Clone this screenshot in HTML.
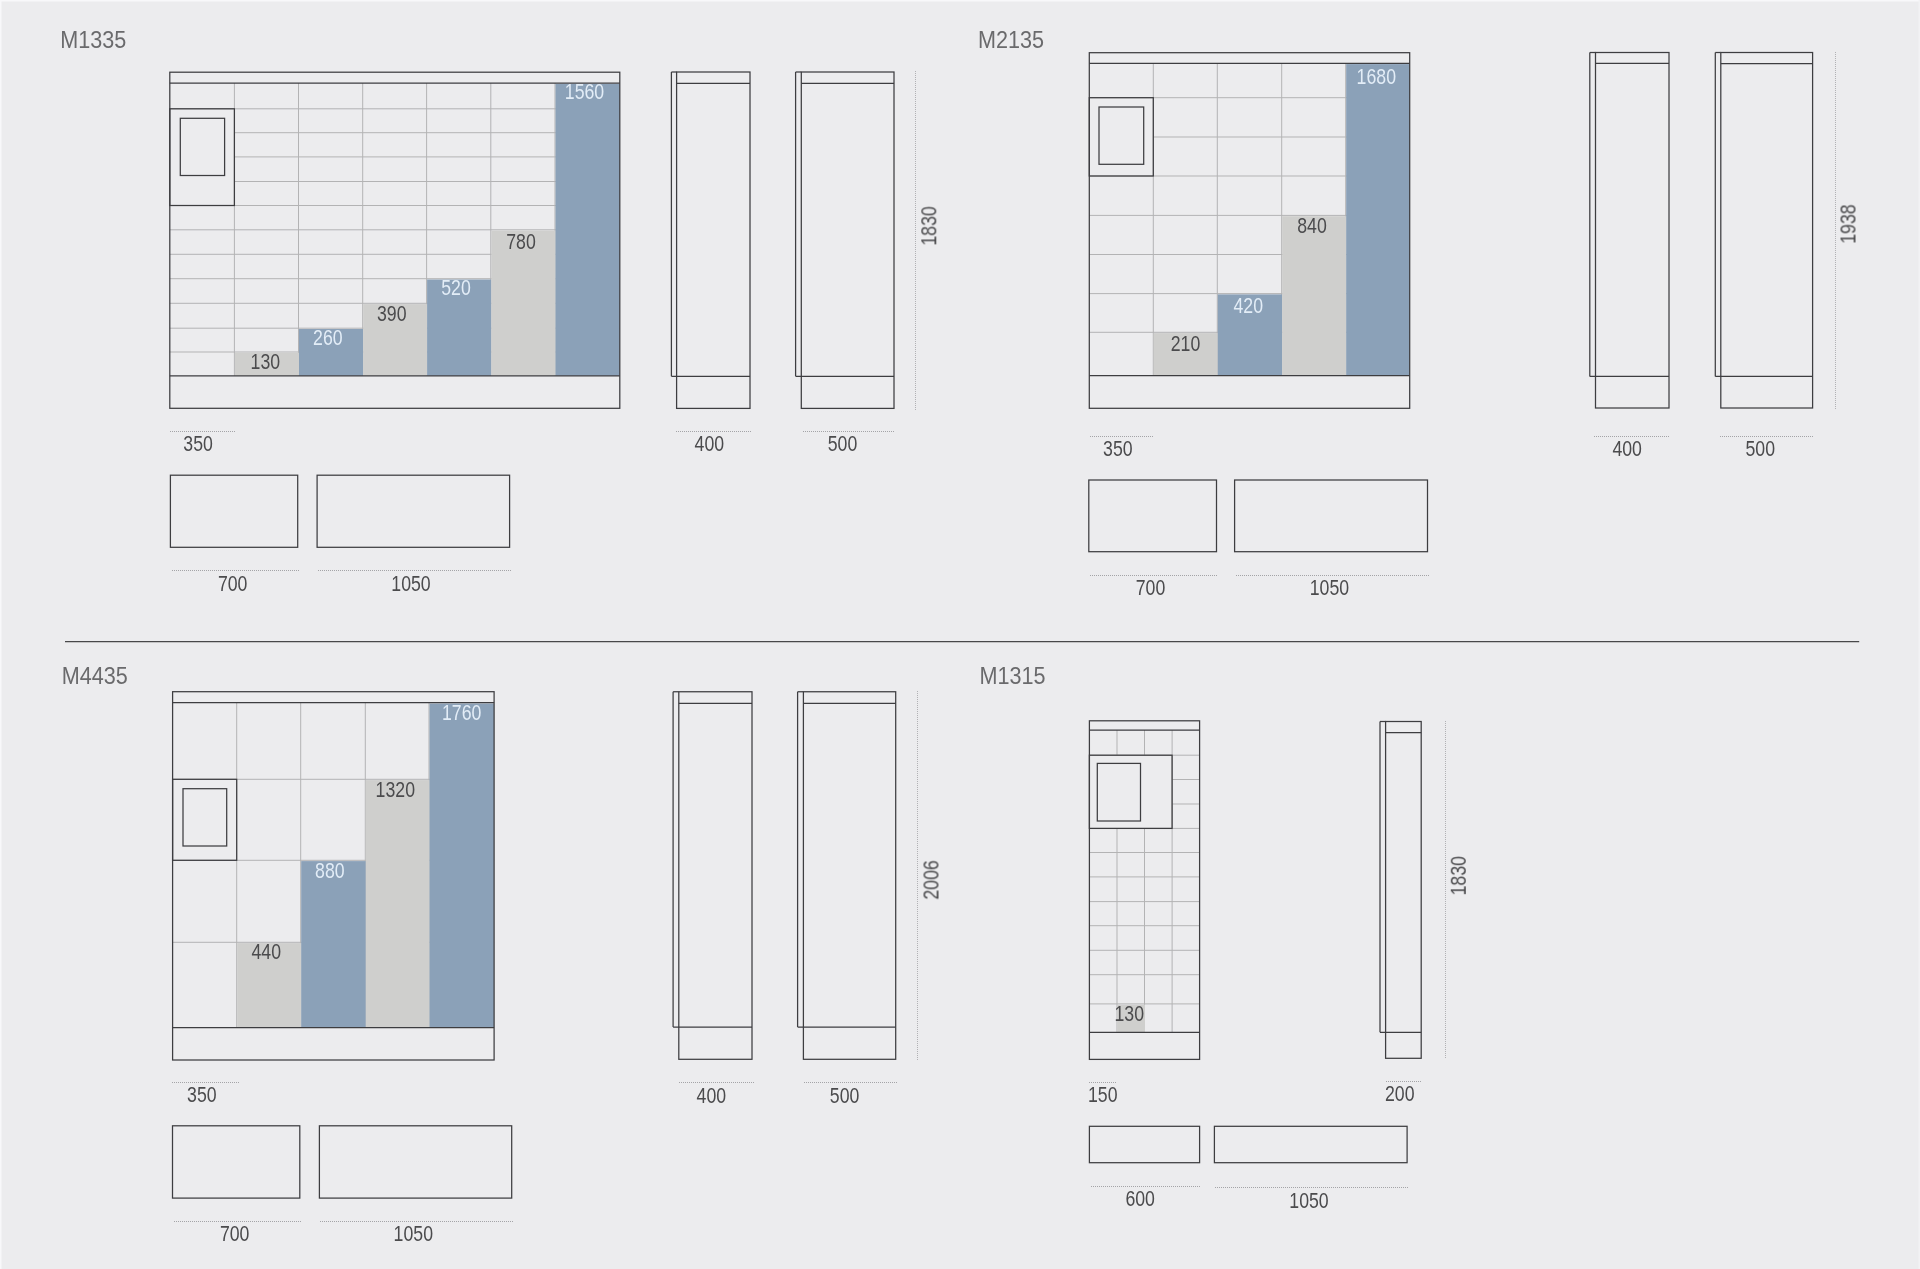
<!DOCTYPE html>
<html><head><meta charset="utf-8"><title>Dimensions</title>
<style>
html,body{margin:0;padding:0;background:#ececee;}
body{width:1920px;height:1269px;overflow:hidden;font-family:"Liberation Sans",sans-serif;}
svg{display:block;font-family:"Liberation Sans",sans-serif;}
</style></head><body>
<svg width="1920" height="1269" viewBox="0 0 1920 1269">
<rect x="0" y="0" width="1920" height="1269" fill="#ececee"/>
<rect x="0" y="0" width="1920" height="1.5" fill="#f8f8fa"/>
<rect x="0" y="0" width="1.5" height="1269" fill="#f8f8fa"/>
<rect x="1918.5" y="0" width="1.5" height="1269" fill="#f2f2f4"/>
<line x1="234.40" y1="83.00" x2="234.40" y2="375.80" stroke="#b3b3b4" stroke-width="1.0" />
<line x1="298.50" y1="83.00" x2="298.50" y2="375.80" stroke="#b3b3b4" stroke-width="1.0" />
<line x1="362.70" y1="83.00" x2="362.70" y2="375.80" stroke="#b3b3b4" stroke-width="1.0" />
<line x1="426.60" y1="83.00" x2="426.60" y2="375.80" stroke="#b3b3b4" stroke-width="1.0" />
<line x1="490.80" y1="83.00" x2="490.80" y2="375.80" stroke="#b3b3b4" stroke-width="1.0" />
<line x1="555.00" y1="83.00" x2="555.00" y2="375.80" stroke="#b3b3b4" stroke-width="1.0" />
<line x1="169.80" y1="108.80" x2="619.80" y2="108.80" stroke="#b3b3b4" stroke-width="1.0" />
<line x1="234.40" y1="132.70" x2="619.80" y2="132.70" stroke="#b3b3b4" stroke-width="1.0" />
<line x1="234.40" y1="156.90" x2="619.80" y2="156.90" stroke="#b3b3b4" stroke-width="1.0" />
<line x1="234.40" y1="181.50" x2="619.80" y2="181.50" stroke="#b3b3b4" stroke-width="1.0" />
<line x1="169.80" y1="205.50" x2="619.80" y2="205.50" stroke="#b3b3b4" stroke-width="1.0" />
<line x1="169.80" y1="229.80" x2="619.80" y2="229.80" stroke="#b3b3b4" stroke-width="1.0" />
<line x1="169.80" y1="254.30" x2="619.80" y2="254.30" stroke="#b3b3b4" stroke-width="1.0" />
<line x1="169.80" y1="278.70" x2="619.80" y2="278.70" stroke="#b3b3b4" stroke-width="1.0" />
<line x1="169.80" y1="303.30" x2="619.80" y2="303.30" stroke="#b3b3b4" stroke-width="1.0" />
<line x1="169.80" y1="328.20" x2="619.80" y2="328.20" stroke="#b3b3b4" stroke-width="1.0" />
<line x1="169.80" y1="352.00" x2="619.80" y2="352.00" stroke="#b3b3b4" stroke-width="1.0" />
<rect x="234.90" y="352.80" width="64.10" height="23.00" fill="#cfcfcd"/>
<rect x="299.00" y="329.00" width="64.20" height="46.80" fill="#8ba1b8"/>
<rect x="363.20" y="304.10" width="63.90" height="71.70" fill="#cfcfcd"/>
<rect x="427.10" y="279.50" width="64.20" height="96.30" fill="#8ba1b8"/>
<rect x="491.30" y="230.60" width="64.20" height="145.20" fill="#cfcfcd"/>
<rect x="555.50" y="83.80" width="64.30" height="292.00" fill="#8ba1b8"/>
<rect x="169.80" y="72.20" width="450.00" height="336.10" fill="none" stroke="#3d3d40" stroke-width="1.25"/>
<line x1="169.80" y1="83.00" x2="619.80" y2="83.00" stroke="#3d3d40" stroke-width="1.25" />
<line x1="169.80" y1="375.80" x2="619.80" y2="375.80" stroke="#3d3d40" stroke-width="1.25" />
<rect x="169.80" y="108.80" width="64.60" height="96.70" fill="none" stroke="#3d3d40" stroke-width="1.25"/>
<rect x="180.30" y="118.30" width="44.30" height="57.20" fill="none" stroke="#3d3d40" stroke-width="1.25"/>
<rect x="676.60" y="72.00" width="73.40" height="336.40" fill="none" stroke="#3d3d40" stroke-width="1.25"/>
<line x1="676.60" y1="83.30" x2="750.00" y2="83.30" stroke="#3d3d40" stroke-width="1.25" />
<line x1="671.40" y1="376.30" x2="750.00" y2="376.30" stroke="#3d3d40" stroke-width="1.25" />
<line x1="671.40" y1="72.00" x2="671.40" y2="376.30" stroke="#3d3d40" stroke-width="1.25" />
<line x1="671.40" y1="72.00" x2="676.60" y2="72.00" stroke="#3d3d40" stroke-width="1.25" />
<rect x="801.30" y="72.00" width="92.70" height="336.40" fill="none" stroke="#3d3d40" stroke-width="1.25"/>
<line x1="801.30" y1="83.30" x2="894.00" y2="83.30" stroke="#3d3d40" stroke-width="1.25" />
<line x1="795.60" y1="376.30" x2="894.00" y2="376.30" stroke="#3d3d40" stroke-width="1.25" />
<line x1="795.60" y1="72.00" x2="795.60" y2="376.30" stroke="#3d3d40" stroke-width="1.25" />
<line x1="795.60" y1="72.00" x2="801.30" y2="72.00" stroke="#3d3d40" stroke-width="1.25" />
<line x1="915.5" y1="71" x2="915.5" y2="411" stroke="#a2a2a4" stroke-width="0.8" stroke-dasharray="1 1"/>
<line x1="170" y1="431.5" x2="235" y2="431.5" stroke="#979799" stroke-width="0.85" stroke-dasharray="1 1"/>
<line x1="676" y1="431.5" x2="752" y2="431.5" stroke="#979799" stroke-width="0.85" stroke-dasharray="1 1"/>
<line x1="803" y1="431.5" x2="895" y2="431.5" stroke="#979799" stroke-width="0.85" stroke-dasharray="1 1"/>
<rect x="170.40" y="475.20" width="127.30" height="72.10" fill="none" stroke="#3d3d40" stroke-width="1.25"/>
<rect x="317.10" y="475.20" width="192.50" height="72.10" fill="none" stroke="#3d3d40" stroke-width="1.25"/>
<line x1="172" y1="570.5" x2="300" y2="570.5" stroke="#979799" stroke-width="0.85" stroke-dasharray="1 1"/>
<line x1="318" y1="570.5" x2="512" y2="570.5" stroke="#979799" stroke-width="0.85" stroke-dasharray="1 1"/>
<line x1="1153.30" y1="63.30" x2="1153.30" y2="375.70" stroke="#b3b3b4" stroke-width="1.0" />
<line x1="1217.30" y1="63.30" x2="1217.30" y2="375.70" stroke="#b3b3b4" stroke-width="1.0" />
<line x1="1281.70" y1="63.30" x2="1281.70" y2="375.70" stroke="#b3b3b4" stroke-width="1.0" />
<line x1="1345.70" y1="63.30" x2="1345.70" y2="375.70" stroke="#b3b3b4" stroke-width="1.0" />
<line x1="1089.30" y1="97.70" x2="1409.70" y2="97.70" stroke="#b3b3b4" stroke-width="1.0" />
<line x1="1153.30" y1="137.00" x2="1409.70" y2="137.00" stroke="#b3b3b4" stroke-width="1.0" />
<line x1="1089.30" y1="176.00" x2="1409.70" y2="176.00" stroke="#b3b3b4" stroke-width="1.0" />
<line x1="1089.30" y1="215.40" x2="1409.70" y2="215.40" stroke="#b3b3b4" stroke-width="1.0" />
<line x1="1089.30" y1="254.50" x2="1409.70" y2="254.50" stroke="#b3b3b4" stroke-width="1.0" />
<line x1="1089.30" y1="293.60" x2="1409.70" y2="293.60" stroke="#b3b3b4" stroke-width="1.0" />
<line x1="1089.30" y1="332.30" x2="1409.70" y2="332.30" stroke="#b3b3b4" stroke-width="1.0" />
<rect x="1153.80" y="333.10" width="64.00" height="42.60" fill="#cfcfcd"/>
<rect x="1217.80" y="294.40" width="64.40" height="81.30" fill="#8ba1b8"/>
<rect x="1282.20" y="216.20" width="64.00" height="159.50" fill="#cfcfcd"/>
<rect x="1346.20" y="64.10" width="63.50" height="311.60" fill="#8ba1b8"/>
<rect x="1089.30" y="52.70" width="320.40" height="355.60" fill="none" stroke="#3d3d40" stroke-width="1.25"/>
<line x1="1089.30" y1="63.30" x2="1409.70" y2="63.30" stroke="#3d3d40" stroke-width="1.25" />
<line x1="1089.30" y1="375.70" x2="1409.70" y2="375.70" stroke="#3d3d40" stroke-width="1.25" />
<rect x="1089.30" y="97.70" width="64.00" height="78.30" fill="none" stroke="#3d3d40" stroke-width="1.25"/>
<rect x="1099.00" y="107.00" width="44.70" height="57.30" fill="none" stroke="#3d3d40" stroke-width="1.25"/>
<rect x="1595.50" y="52.50" width="73.50" height="355.50" fill="none" stroke="#3d3d40" stroke-width="1.25"/>
<line x1="1595.50" y1="63.30" x2="1669.00" y2="63.30" stroke="#3d3d40" stroke-width="1.25" />
<line x1="1589.80" y1="376.40" x2="1669.00" y2="376.40" stroke="#3d3d40" stroke-width="1.25" />
<line x1="1589.80" y1="52.50" x2="1589.80" y2="376.40" stroke="#3d3d40" stroke-width="1.25" />
<line x1="1589.80" y1="52.50" x2="1595.50" y2="52.50" stroke="#3d3d40" stroke-width="1.25" />
<rect x="1720.80" y="52.50" width="91.80" height="355.50" fill="none" stroke="#3d3d40" stroke-width="1.25"/>
<line x1="1720.80" y1="63.70" x2="1812.60" y2="63.70" stroke="#3d3d40" stroke-width="1.25" />
<line x1="1715.30" y1="376.40" x2="1812.60" y2="376.40" stroke="#3d3d40" stroke-width="1.25" />
<line x1="1715.30" y1="52.50" x2="1715.30" y2="376.40" stroke="#3d3d40" stroke-width="1.25" />
<line x1="1715.30" y1="52.50" x2="1720.80" y2="52.50" stroke="#3d3d40" stroke-width="1.25" />
<line x1="1835.5" y1="52" x2="1835.5" y2="409" stroke="#a2a2a4" stroke-width="0.8" stroke-dasharray="1 1"/>
<line x1="1090" y1="436.5" x2="1154" y2="436.5" stroke="#979799" stroke-width="0.85" stroke-dasharray="1 1"/>
<line x1="1594" y1="436.5" x2="1670" y2="436.5" stroke="#979799" stroke-width="0.85" stroke-dasharray="1 1"/>
<line x1="1720" y1="436.5" x2="1813" y2="436.5" stroke="#979799" stroke-width="0.85" stroke-dasharray="1 1"/>
<rect x="1088.80" y="480.00" width="127.70" height="71.70" fill="none" stroke="#3d3d40" stroke-width="1.25"/>
<rect x="1234.60" y="480.00" width="192.90" height="71.70" fill="none" stroke="#3d3d40" stroke-width="1.25"/>
<line x1="1090" y1="575.5" x2="1217" y2="575.5" stroke="#979799" stroke-width="0.85" stroke-dasharray="1 1"/>
<line x1="1236" y1="575.5" x2="1430" y2="575.5" stroke="#979799" stroke-width="0.85" stroke-dasharray="1 1"/>
<line x1="65.00" y1="641.60" x2="1859.20" y2="641.60" stroke="#48484a" stroke-width="1.3" />
<line x1="236.70" y1="702.70" x2="236.70" y2="1027.50" stroke="#b3b3b4" stroke-width="1.0" />
<line x1="300.70" y1="702.70" x2="300.70" y2="1027.50" stroke="#b3b3b4" stroke-width="1.0" />
<line x1="365.30" y1="702.70" x2="365.30" y2="1027.50" stroke="#b3b3b4" stroke-width="1.0" />
<line x1="429.00" y1="702.70" x2="429.00" y2="1027.50" stroke="#b3b3b4" stroke-width="1.0" />
<line x1="172.60" y1="779.30" x2="494.10" y2="779.30" stroke="#b3b3b4" stroke-width="1.0" />
<line x1="172.60" y1="860.30" x2="494.10" y2="860.30" stroke="#b3b3b4" stroke-width="1.0" />
<line x1="172.60" y1="942.30" x2="494.10" y2="942.30" stroke="#b3b3b4" stroke-width="1.0" />
<rect x="237.20" y="943.10" width="64.00" height="84.40" fill="#cfcfcd"/>
<rect x="301.20" y="861.10" width="64.60" height="166.40" fill="#8ba1b8"/>
<rect x="365.80" y="780.10" width="63.70" height="247.40" fill="#cfcfcd"/>
<rect x="429.50" y="703.50" width="64.60" height="324.00" fill="#8ba1b8"/>
<rect x="172.60" y="691.70" width="321.50" height="368.30" fill="none" stroke="#3d3d40" stroke-width="1.25"/>
<line x1="172.60" y1="702.70" x2="494.10" y2="702.70" stroke="#3d3d40" stroke-width="1.25" />
<line x1="172.60" y1="1027.50" x2="494.10" y2="1027.50" stroke="#3d3d40" stroke-width="1.25" />
<rect x="172.60" y="779.30" width="64.10" height="81.00" fill="none" stroke="#3d3d40" stroke-width="1.25"/>
<rect x="183.00" y="788.70" width="43.70" height="57.30" fill="none" stroke="#3d3d40" stroke-width="1.25"/>
<rect x="678.80" y="691.75" width="73.20" height="367.55" fill="none" stroke="#3d3d40" stroke-width="1.25"/>
<line x1="678.80" y1="703.40" x2="752.00" y2="703.40" stroke="#3d3d40" stroke-width="1.25" />
<line x1="673.10" y1="1027.10" x2="752.00" y2="1027.10" stroke="#3d3d40" stroke-width="1.25" />
<line x1="673.10" y1="691.75" x2="673.10" y2="1027.10" stroke="#3d3d40" stroke-width="1.25" />
<line x1="673.10" y1="691.75" x2="678.80" y2="691.75" stroke="#3d3d40" stroke-width="1.25" />
<rect x="803.40" y="691.75" width="92.30" height="367.55" fill="none" stroke="#3d3d40" stroke-width="1.25"/>
<line x1="803.40" y1="703.40" x2="895.70" y2="703.40" stroke="#3d3d40" stroke-width="1.25" />
<line x1="797.60" y1="1027.10" x2="895.70" y2="1027.10" stroke="#3d3d40" stroke-width="1.25" />
<line x1="797.60" y1="691.75" x2="797.60" y2="1027.10" stroke="#3d3d40" stroke-width="1.25" />
<line x1="797.60" y1="691.75" x2="803.40" y2="691.75" stroke="#3d3d40" stroke-width="1.25" />
<line x1="917.5" y1="691" x2="917.5" y2="1060" stroke="#a2a2a4" stroke-width="0.8" stroke-dasharray="1 1"/>
<line x1="172" y1="1082.5" x2="240" y2="1082.5" stroke="#979799" stroke-width="0.85" stroke-dasharray="1 1"/>
<line x1="679" y1="1082.5" x2="754" y2="1082.5" stroke="#979799" stroke-width="0.85" stroke-dasharray="1 1"/>
<line x1="804" y1="1082.5" x2="897" y2="1082.5" stroke="#979799" stroke-width="0.85" stroke-dasharray="1 1"/>
<rect x="172.50" y="1125.80" width="127.30" height="72.30" fill="none" stroke="#3d3d40" stroke-width="1.25"/>
<rect x="319.40" y="1125.80" width="192.30" height="72.30" fill="none" stroke="#3d3d40" stroke-width="1.25"/>
<line x1="174" y1="1221.5" x2="302" y2="1221.5" stroke="#979799" stroke-width="0.85" stroke-dasharray="1 1"/>
<line x1="320" y1="1221.5" x2="514" y2="1221.5" stroke="#979799" stroke-width="0.85" stroke-dasharray="1 1"/>
<line x1="1117.00" y1="730.00" x2="1117.00" y2="755.20" stroke="#b3b3b4" stroke-width="1.0" />
<line x1="1117.00" y1="828.40" x2="1117.00" y2="1032.40" stroke="#b3b3b4" stroke-width="1.0" />
<line x1="1144.50" y1="730.00" x2="1144.50" y2="755.20" stroke="#b3b3b4" stroke-width="1.0" />
<line x1="1144.50" y1="828.40" x2="1144.50" y2="1032.40" stroke="#b3b3b4" stroke-width="1.0" />
<line x1="1172.10" y1="730.00" x2="1172.10" y2="1032.40" stroke="#b3b3b4" stroke-width="1.0" />
<line x1="1089.40" y1="755.20" x2="1199.60" y2="755.20" stroke="#b3b3b4" stroke-width="1.0" />
<line x1="1172.10" y1="779.50" x2="1199.60" y2="779.50" stroke="#b3b3b4" stroke-width="1.0" />
<line x1="1172.10" y1="804.00" x2="1199.60" y2="804.00" stroke="#b3b3b4" stroke-width="1.0" />
<line x1="1089.40" y1="828.40" x2="1199.60" y2="828.40" stroke="#b3b3b4" stroke-width="1.0" />
<line x1="1089.40" y1="852.50" x2="1199.60" y2="852.50" stroke="#b3b3b4" stroke-width="1.0" />
<line x1="1089.40" y1="876.90" x2="1199.60" y2="876.90" stroke="#b3b3b4" stroke-width="1.0" />
<line x1="1089.40" y1="901.60" x2="1199.60" y2="901.60" stroke="#b3b3b4" stroke-width="1.0" />
<line x1="1089.40" y1="925.70" x2="1199.60" y2="925.70" stroke="#b3b3b4" stroke-width="1.0" />
<line x1="1089.40" y1="950.30" x2="1199.60" y2="950.30" stroke="#b3b3b4" stroke-width="1.0" />
<line x1="1089.40" y1="974.70" x2="1199.60" y2="974.70" stroke="#b3b3b4" stroke-width="1.0" />
<line x1="1089.40" y1="1003.90" x2="1199.60" y2="1003.90" stroke="#b3b3b4" stroke-width="1.0" />
<rect x="1117.50" y="1004.70" width="27.50" height="27.70" fill="#cfcfcd"/>
<rect x="1089.40" y="720.80" width="110.20" height="338.60" fill="none" stroke="#3d3d40" stroke-width="1.25"/>
<line x1="1089.40" y1="730.00" x2="1199.60" y2="730.00" stroke="#3d3d40" stroke-width="1.25" />
<line x1="1089.40" y1="1032.40" x2="1199.60" y2="1032.40" stroke="#3d3d40" stroke-width="1.25" />
<rect x="1089.40" y="755.20" width="82.70" height="73.20" fill="none" stroke="#3d3d40" stroke-width="1.25"/>
<rect x="1097.30" y="763.40" width="43.20" height="57.60" fill="none" stroke="#3d3d40" stroke-width="1.25"/>
<rect x="1385.60" y="721.50" width="35.60" height="336.80" fill="none" stroke="#3d3d40" stroke-width="1.25"/>
<line x1="1385.60" y1="732.70" x2="1421.20" y2="732.70" stroke="#3d3d40" stroke-width="1.25" />
<line x1="1380.00" y1="1032.30" x2="1421.20" y2="1032.30" stroke="#3d3d40" stroke-width="1.25" />
<line x1="1380.00" y1="721.50" x2="1380.00" y2="1032.30" stroke="#3d3d40" stroke-width="1.25" />
<line x1="1380.00" y1="721.50" x2="1385.60" y2="721.50" stroke="#3d3d40" stroke-width="1.25" />
<line x1="1445.5" y1="721" x2="1445.5" y2="1059" stroke="#a2a2a4" stroke-width="0.8" stroke-dasharray="1 1"/>
<line x1="1089" y1="1082.5" x2="1117" y2="1082.5" stroke="#979799" stroke-width="0.85" stroke-dasharray="1 1"/>
<line x1="1386" y1="1081.5" x2="1422" y2="1081.5" stroke="#979799" stroke-width="0.85" stroke-dasharray="1 1"/>
<rect x="1089.40" y="1126.30" width="110.20" height="36.40" fill="none" stroke="#3d3d40" stroke-width="1.25"/>
<rect x="1214.40" y="1126.30" width="192.70" height="36.40" fill="none" stroke="#3d3d40" stroke-width="1.25"/>
<line x1="1091" y1="1186.5" x2="1200" y2="1186.5" stroke="#979799" stroke-width="0.85" stroke-dasharray="1 1"/>
<line x1="1215" y1="1187.5" x2="1409" y2="1187.5" stroke="#979799" stroke-width="0.85" stroke-dasharray="1 1"/>
<g opacity="0.999">
<text transform="translate(60.20,47.90) scale(0.9,1)" text-anchor="start" font-size="24" fill="#6a6a6c">M1335</text>
<text transform="translate(265.30,369.00) scale(0.805,1)" text-anchor="middle" font-size="22" fill="#4b4b4d">130</text>
<text transform="translate(327.80,345.00) scale(0.805,1)" text-anchor="middle" font-size="22" fill="#e3edf7">260</text>
<text transform="translate(391.70,320.70) scale(0.805,1)" text-anchor="middle" font-size="22" fill="#4b4b4d">390</text>
<text transform="translate(456.00,295.00) scale(0.805,1)" text-anchor="middle" font-size="22" fill="#e3edf7">520</text>
<text transform="translate(521.00,248.70) scale(0.805,1)" text-anchor="middle" font-size="22" fill="#4b4b4d">780</text>
<text transform="translate(584.50,99.30) scale(0.805,1)" text-anchor="middle" font-size="22" fill="#e3edf7">1560</text>
<text transform="translate(936.30,226.00) rotate(-90) scale(0.784,1)" text-anchor="middle" font-size="22.6" fill="#4b4b4d">1830</text>
<text transform="translate(198.10,451.00) scale(0.784,1)" text-anchor="middle" font-size="22.6" fill="#4b4b4d">350</text>
<text transform="translate(709.40,451.20) scale(0.784,1)" text-anchor="middle" font-size="22.6" fill="#4b4b4d">400</text>
<text transform="translate(842.50,451.20) scale(0.784,1)" text-anchor="middle" font-size="22.6" fill="#4b4b4d">500</text>
<text transform="translate(232.70,590.60) scale(0.784,1)" text-anchor="middle" font-size="22.6" fill="#4b4b4d">700</text>
<text transform="translate(411.00,590.60) scale(0.784,1)" text-anchor="middle" font-size="22.6" fill="#4b4b4d">1050</text>
<text transform="translate(978.00,48.20) scale(0.9,1)" text-anchor="start" font-size="24" fill="#6a6a6c">M2135</text>
<text transform="translate(1185.50,350.70) scale(0.805,1)" text-anchor="middle" font-size="22" fill="#4b4b4d">210</text>
<text transform="translate(1248.20,312.70) scale(0.805,1)" text-anchor="middle" font-size="22" fill="#e3edf7">420</text>
<text transform="translate(1312.00,232.50) scale(0.805,1)" text-anchor="middle" font-size="22" fill="#4b4b4d">840</text>
<text transform="translate(1376.30,83.60) scale(0.805,1)" text-anchor="middle" font-size="22" fill="#e3edf7">1680</text>
<text transform="translate(1855.50,224.10) rotate(-90) scale(0.784,1)" text-anchor="middle" font-size="22.6" fill="#4b4b4d">1938</text>
<text transform="translate(1117.90,455.80) scale(0.784,1)" text-anchor="middle" font-size="22.6" fill="#4b4b4d">350</text>
<text transform="translate(1627.20,456.20) scale(0.784,1)" text-anchor="middle" font-size="22.6" fill="#4b4b4d">400</text>
<text transform="translate(1760.30,456.20) scale(0.784,1)" text-anchor="middle" font-size="22.6" fill="#4b4b4d">500</text>
<text transform="translate(1150.50,595.40) scale(0.784,1)" text-anchor="middle" font-size="22.6" fill="#4b4b4d">700</text>
<text transform="translate(1329.40,595.40) scale(0.784,1)" text-anchor="middle" font-size="22.6" fill="#4b4b4d">1050</text>
<text transform="translate(61.70,684.00) scale(0.9,1)" text-anchor="start" font-size="24" fill="#6a6a6c">M4435</text>
<text transform="translate(266.20,958.90) scale(0.805,1)" text-anchor="middle" font-size="22" fill="#4b4b4d">440</text>
<text transform="translate(329.80,878.10) scale(0.805,1)" text-anchor="middle" font-size="22" fill="#e3edf7">880</text>
<text transform="translate(395.30,796.70) scale(0.805,1)" text-anchor="middle" font-size="22" fill="#4b4b4d">1320</text>
<text transform="translate(461.70,720.00) scale(0.805,1)" text-anchor="middle" font-size="22" fill="#e3edf7">1760</text>
<text transform="translate(938.50,880.00) rotate(-90) scale(0.784,1)" text-anchor="middle" font-size="22.6" fill="#4b4b4d">2006</text>
<text transform="translate(201.90,1101.70) scale(0.784,1)" text-anchor="middle" font-size="22.6" fill="#4b4b4d">350</text>
<text transform="translate(711.40,1102.50) scale(0.784,1)" text-anchor="middle" font-size="22.6" fill="#4b4b4d">400</text>
<text transform="translate(844.60,1102.50) scale(0.784,1)" text-anchor="middle" font-size="22.6" fill="#4b4b4d">500</text>
<text transform="translate(234.70,1241.30) scale(0.784,1)" text-anchor="middle" font-size="22.6" fill="#4b4b4d">700</text>
<text transform="translate(413.30,1241.30) scale(0.784,1)" text-anchor="middle" font-size="22.6" fill="#4b4b4d">1050</text>
<text transform="translate(979.60,684.00) scale(0.9,1)" text-anchor="start" font-size="24" fill="#6a6a6c">M1315</text>
<text transform="translate(1129.20,1021.10) scale(0.805,1)" text-anchor="middle" font-size="22" fill="#4b4b4d">130</text>
<text transform="translate(1465.80,875.80) rotate(-90) scale(0.784,1)" text-anchor="middle" font-size="22.6" fill="#4b4b4d">1830</text>
<text transform="translate(1088.00,1102.20) scale(0.784,1)" text-anchor="start" font-size="22.6" fill="#4b4b4d">150</text>
<text transform="translate(1385.00,1101.20) scale(0.784,1)" text-anchor="start" font-size="22.6" fill="#4b4b4d">200</text>
<text transform="translate(1140.20,1206.00) scale(0.784,1)" text-anchor="middle" font-size="22.6" fill="#4b4b4d">600</text>
<text transform="translate(1309.00,1207.60) scale(0.784,1)" text-anchor="middle" font-size="22.6" fill="#4b4b4d">1050</text>
</g>
</svg>
</body></html>
